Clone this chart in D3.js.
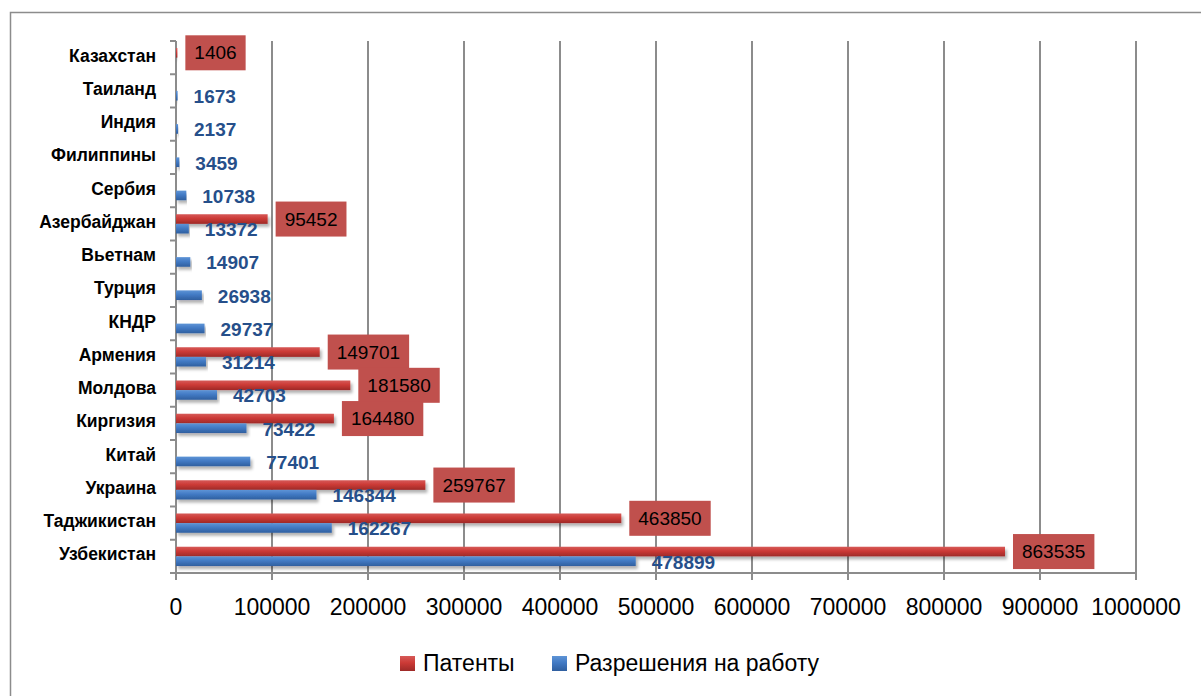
<!DOCTYPE html>
<meta charset="utf-8">
<style>
body { margin: 0; background: #fff; }
svg { font-family: "Liberation Sans", Arial, sans-serif; }
.grid line { stroke: #8c8c8c; stroke-width: 2; }
.cat { font-weight: bold; font-size: 17.5px; fill: #000; }
.tick-x { font-size: 23px; fill: #000; }
.lbl-red { font-size: 19px; fill: #000; }
.lbl-blue { font-size: 19px; font-weight: bold; fill: #264f8a; }
.legend text { font-size: 23px; fill: #000; }
</style>
<svg width="1201" height="696"></svg>
<script src="https://d3js.org/d3.v7.min.js"></script>
<script>

// данные (сверху вниз)
var countries = ["Казахстан", "Таиланд", "Индия", "Филиппины", "Сербия", "Азербайджан",
  "Вьетнам", "Турция", "КНДР", "Армения", "Молдова", "Киргизия", "Китай", "Украина",
  "Таджикистан", "Узбекистан"];
var patents = [1406, null, null, null, null, 95452, null, null, null, 149701, 181580,
  164480, null, 259767, 463850, 863535];
var permits = [null, 1673, 2137, 3459, 10738, 13372, 14907, 26938, 29737, 31214, 42703,
  73422, 77401, 146344, 162267, 478899];
var series = ["Патенты", "Разрешения на работу"];
var xTicks = [0, 100000, 200000, 300000, 400000, 500000, 600000, 700000, 800000, 900000, 1000000];

var svg = d3.select("svg");

var x = d3.scaleLinear().domain([0, 1000000]).range([176, 1136]);
var y = d3.scaleBand().domain(countries).range([41, 573]).paddingInner(0.42).paddingOuter(0.21);
var y1 = d3.scaleBand().domain(series).range([0, y.bandwidth()]);

var defs = svg.append("defs");
function grad(id, c1, c2, c3) {
  var g = defs.append("linearGradient").attr("id", id)
      .attr("x1", 0).attr("y1", 0).attr("x2", 0).attr("y2", 1);
  g.append("stop").attr("offset", "0%").attr("stop-color", c1);
  g.append("stop").attr("offset", "45%").attr("stop-color", c2);
  g.append("stop").attr("offset", "100%").attr("stop-color", c3);
}
grad("gRed", "#d65a58", "#cc3a36", "#9e2a28");
grad("gBlue", "#5e94d6", "#427ac4", "#2f5f9f");
var f = defs.append("filter").attr("id", "shadow").attr("x", "-5%").attr("y", "-50%")
    .attr("width", "110%").attr("height", "250%");
f.append("feDropShadow").attr("dx", 2).attr("dy", 3).attr("stdDeviation", 1.5)
    .attr("flood-color", "#000").attr("flood-opacity", 0.3);

// рамка
svg.append("rect").attr("x", 10.5).attr("y", 12.5).attr("width", 1300).attr("height", 800)
    .attr("fill", "none").attr("stroke", "#8c8c8c").attr("stroke-width", 1.5);

// сетка
svg.append("g").attr("class", "grid")
  .selectAll("line").data(xTicks.slice(1)).enter().append("line")
    .attr("x1", d => x(d)).attr("x2", d => x(d))
    .attr("y1", 41).attr("y2", 580);

// ось Y
var axis = svg.append("g").attr("class", "grid");
axis.append("line").attr("x1", x(0)).attr("x2", x(0)).attr("y1", 41).attr("y2", 580);
axis.append("line").attr("x1", 170).attr("x2", x(1000000) + 1).attr("y1", 573).attr("y2", 573);
axis.selectAll(".yt").data(d3.range(countries.length + 1)).enter().append("line")
    .attr("x1", 170).attr("x2", x(0))
    .attr("y1", i => 41 + i * y.step()).attr("y2", i => 41 + i * y.step());

svg.selectAll(".tick-x").data(xTicks).enter().append("text")
    .attr("class", "tick-x")
    .attr("x", d => x(d)).attr("y", 615)
    .attr("text-anchor", "middle")
    .text(d => d);

svg.selectAll(".cat").data(countries).enter().append("text")
    .attr("class", "cat")
    .attr("x", 156).attr("y", d => y(d) + y.bandwidth() / 2 - 2)
    .attr("text-anchor", "end").attr("dominant-baseline", "central")
    .text(d => d);

var rows = countries.map((c, i) => ({c: c, p: patents[i], w: permits[i]}));

// полосы
var g = svg.append("g");
g.selectAll(".bp").data(rows.filter(d => d.p != null)).enter().append("rect")
    .attr("x", x(0)).attr("y", d => y(d.c) + y1(series[0]))
    .attr("width", d => Math.max(1, x(d.p) - x(0))).attr("height", y1.bandwidth())
    .attr("fill", "url(#gRed)").attr("filter", "url(#shadow)");
g.selectAll(".bw").data(rows.filter(d => d.w != null)).enter().append("rect")
    .attr("x", x(0)).attr("y", d => y(d.c) + y1(series[1]))
    .attr("width", d => Math.max(1.5, x(d.w) - x(0))).attr("height", y1.bandwidth())
    .attr("fill", "url(#gBlue)").attr("filter", "url(#shadow)");

// подписи: патенты
var lp = svg.selectAll(".lp").data(rows.filter(d => d.p != null)).enter().append("g");
lp.append("text").attr("class", "lbl-red")
    .attr("x", d => x(d.p) + 17)
    .attr("y", d => y(d.c) + y1(series[0]) + y1.bandwidth() / 2)
    .attr("dominant-baseline", "central")
    .text(d => d.p);
lp.each(function () {
  var t = d3.select(this).select("text"), b = t.node().getBBox();
  d3.select(this).insert("rect", "text")
      .attr("x", b.x - 9).attr("y", b.y + b.height / 2 - 17.5)
      .attr("width", b.width + 18).attr("height", 35)
      .attr("fill", "#c0504d");
});

// подписи: разрешения
svg.selectAll(".lw").data(rows.filter(d => d.w != null)).enter().append("text")
    .attr("class", "lbl-blue")
    .attr("x", d => x(d.w) + 16)
    .attr("y", d => y(d.c) + y1(series[1]) + y1.bandwidth() / 2 + 1)
    .attr("dominant-baseline", "central")
    .text(d => d.w);

// легенда
var leg = svg.append("g").attr("class", "legend");
leg.append("rect").attr("x", 400).attr("y", 656).attr("width", 15).attr("height", 15).attr("fill", "url(#gRed)");
leg.append("text").attr("x", 423).attr("y", 671).text(series[0]);
leg.append("rect").attr("x", 552).attr("y", 656).attr("width", 15).attr("height", 15).attr("fill", "url(#gBlue)");
leg.append("text").attr("x", 575).attr("y", 671).text(series[1]);

</script>
